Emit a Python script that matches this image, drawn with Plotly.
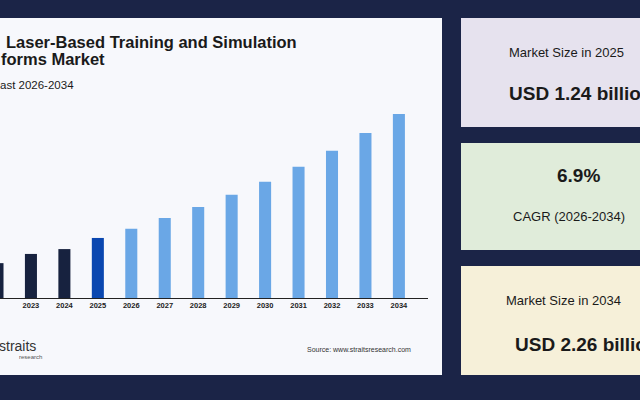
import plotly.graph_objects as go

years = ["2022", "2023", "2024", "2025", "2026", "2027", "2028",
         "2029", "2030", "2031", "2032", "2033", "2034"]
# bar heights (scaled so 2025 = 1.24)
values = [0.72, 0.91, 1.01, 1.24, 1.43, 1.65, 1.88,
          2.13, 2.40, 2.71, 3.04, 3.41, 3.80]
colors = ["#17223f"] * 3 + ["#0a47b0"] + ["#6aa7e6"] * 9

W, H = 640, 400


def px(x):
    return x / W


def py(y):
    return 1 - y / H


fig = go.Figure()
fig.add_trace(go.Bar(x=list(range(len(years))), y=values,
                     marker=dict(color=colors, line=dict(width=0)),
                     width=0.36, hoverinfo="skip"))

shapes = [
    dict(type="rect", xref="paper", yref="paper", x0=px(-5), x1=px(442),
         y0=py(375), y1=py(18), fillcolor="#f7f8fc", line_width=0,
         layer="below"),
]
cards = [(18, 127, "#e6e2ee"), (143, 250, "#e0ecda"), (266, 375, "#f6f0d9")]
for y0, y1, c in cards:
    shapes.append(dict(type="rect", xref="paper", yref="paper", x0=px(461),
                       x1=px(645), y0=py(y1), y1=py(y0), fillcolor=c,
                       line_width=0, layer="below"))

ann = []


def text(x, y, s, size, bold=False, anchor="left", color="#1a1a1a"):
    ann.append(dict(xref="paper", yref="paper", x=px(x), y=py(y),
                    text=f"<b>{s}</b>" if bold else s, showarrow=False,
                    xanchor=anchor, yanchor="middle",
                    font=dict(size=size, color=color,
                              family="Liberation Sans, Arial")))


text(4, 42, "Laser-Based Training and Simulation", 16.5, True)
text(-1, 59, "forms Market", 16.5, True)
text(-2, 85, "ast 2026-2034", 11.5)
text(-3, 346, "straits", 14, color="#333")
text(17, 357, "research", 6, color="#555")
text(305, 349, "Source: www.straitsresearch.com", 7, color="#333")
text(566, 52, "Market Size in 2025", 13, anchor="center")
text(507, 93, "USD 1.24 billion", 19, True)
text(578, 176, "6.9%", 19, True, anchor="center")
text(511, 216, "CAGR (2026-2034)", 13)
text(504, 300, "Market Size in 2034", 13)
text(513, 344, "USD 2.26 billion", 19, True)

fig.update_layout(
    width=W, height=H, margin=dict(l=0, r=0, t=0, b=0),
    paper_bgcolor="#1b2447", plot_bgcolor="rgba(0,0,0,0)",
    showlegend=False, shapes=shapes, annotations=ann,
    xaxis=dict(domain=[0, 428 / W], range=[0.075, 12.87],
               tickvals=list(range(len(years))),
               ticktext=[f"<b>{y}</b>" for y in years],
               tickfont=dict(size=7.5, color="#222",
                             family="Liberation Sans, Arial"),
               showgrid=False, zeroline=False, showline=True,
               linecolor="#222", linewidth=1.2, ticks=""),
    yaxis=dict(domain=[py(298), py(114)], range=[0, 3.8], visible=False),
)
fig.write_html("out.html", config={"displayModeBar": False},
               post_script="document.body.style.margin='0';"
                           "document.body.style.overflow='hidden';")
